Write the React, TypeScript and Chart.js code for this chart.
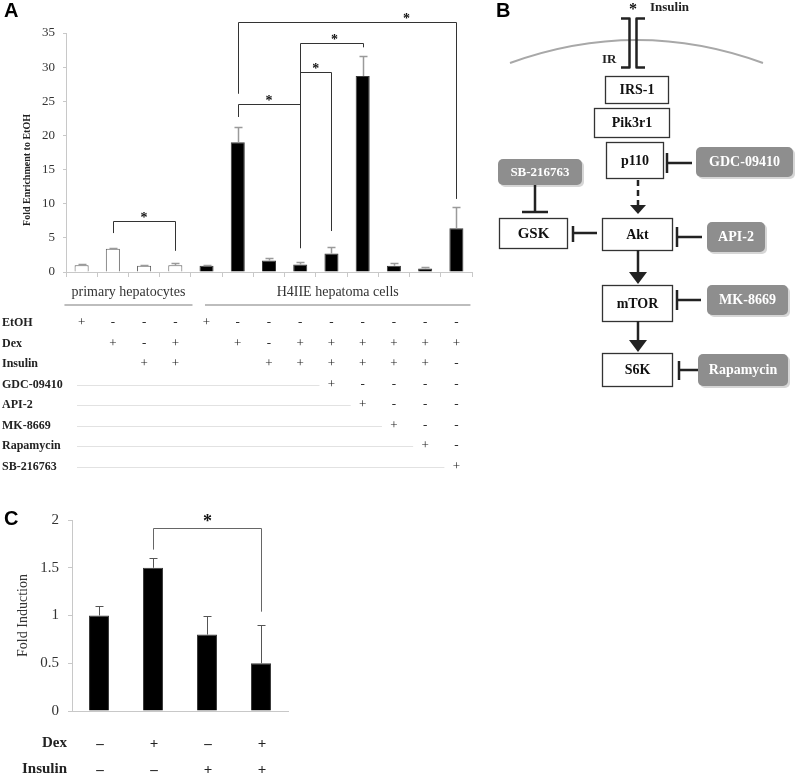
import React, { useEffect, useRef } from "react";
import { Chart, registerables } from "chart.js";

Chart.register(...registerables);

// ---------- Panel A data ----------
const lanesA = ["PH 1", "PH 2", "PH 3", "PH 4", "H4 1", "H4 2", "H4 3", "H4 4", "H4 5", "H4 6", "H4 7", "H4 8", "H4 9"];
const valuesA = [1.0, 3.4, 0.9, 1.0, 0.9, 19.0, 1.7, 1.1, 2.7, 28.7, 0.9, 0.5, 6.4];
const errorsA = [0.1, 0.1, 0.1, 0.3, 0.1, 2.2, 0.3, 0.4, 0.9, 2.9, 0.4, 0.3, 3.1];
const cellTypeA = ["primary", "primary", "primary", "primary", "H4IIE", "H4IIE", "H4IIE", "H4IIE", "H4IIE", "H4IIE", "H4IIE", "H4IIE", "H4IIE"];
const groupLabelsA = ["primary hepatocytes", "H4IIE hepatoma cells"];
const groupStartA = [-0.55, 3.95];
const groupEndA = [3.55, 12.45];

const etohA = ["+", "-", "-", "-", "+", "-", "-", "-", "-", "-", "-", "-", "-"];
const dexA = ["", "+", "-", "+", "", "+", "-", "+", "+", "+", "+", "+", "+"];
const insulinA = ["", "", "+", "+", "", "", "+", "+", "+", "+", "+", "+", "-"];
const gdcA = ["", "", "", "", "", "", "", "", "+", "-", "-", "-", "-"];
const api2A = ["", "", "", "", "", "", "", "", "", "+", "-", "-", "-"];
const mkA = ["", "", "", "", "", "", "", "", "", "", "+", "-", "-"];
const rapaA = ["", "", "", "", "", "", "", "", "", "", "", "+", "-"];
const sbA = ["", "", "", "", "", "", "", "", "", "", "", "", "+"];
const rowNamesA = ["EtOH", "Dex", "Insulin", "GDC-09410", "API-2", "MK-8669", "Rapamycin", "SB-216763"];
const rowValuesA = [etohA, dexA, insulinA, gdcA, api2A, mkA, rapaA, sbA];

const bracketFromA = [1, 5, 7, 7, 5];
const bracketToA = [3, 7, 8, 9, 12];
const bracketLeftBaseA = [5.7, 22.7, 3.5, 3.5, 26.1];
const bracketTopA = [7.5, 24.6, 29.3, 33.5, 36.6];
const bracketRightBaseA = [3.1, 3.5, 6.0, 32.9, 10.7];
const bracketStarA = [2.0, 6.0, 7.5, 8.1, 10.4];

// ---------- Panel C data ----------
const categoriesC = ["Control", "Dex", "Insulin", "Dex + Insulin"];
const valuesC = [1.0, 1.5, 0.8, 0.5];
const errorsC = [0.1, 0.1, 0.2, 0.4];
const dexC = ["–", "+", "–", "+"];
const insulinC = ["–", "–", "+", "+"];
const bracketC = [1, 3];
const bracketLevelsC = [1.69, 1.92, 1.04];

const SERIF = "'Liberation Serif', 'Times New Roman', serif";

function starAt(ctx: CanvasRenderingContext2D, x: number, y: number, size: number) {
  ctx.font = `bold ${size}px ${SERIF}`;
  ctx.textAlign = "center";
  ctx.textBaseline = "middle";
  ctx.fillStyle = "#111";
  ctx.fillText("*", x, y);
}

const pluginA = {
  id: "annotA",
  afterDatasetsDraw(chart: any) {
    const { ctx, scales } = chart;
    const x = scales.x;
    const y = scales.y;
    const meta = chart.getDatasetMeta(0);
    ctx.save();
    // error bars
    ctx.strokeStyle = "#9a9a9a";
    ctx.lineWidth = 1.5;
    valuesA.forEach((v, i) => {
      const px = Math.round(meta.data[i].x) + 0.5;
      const y0 = y.getPixelForValue(v);
      const y1 = Math.round(y.getPixelForValue(v + errorsA[i])) + 0.5;
      ctx.beginPath();
      ctx.moveTo(px, y0);
      ctx.lineTo(px, y1);
      ctx.moveTo(px - 4, y1);
      ctx.lineTo(px + 4, y1);
      ctx.stroke();
    });
    // brackets
    ctx.strokeStyle = "#333";
    ctx.lineWidth = 1;
    bracketFromA.forEach((f, k) => {
      const xl = Math.round(x.getPixelForValue(f)) + 0.5;
      const xr = Math.round(x.getPixelForValue(bracketToA[k])) + 0.5;
      const yt = Math.round(y.getPixelForValue(bracketTopA[k])) + 0.5;
      ctx.beginPath();
      ctx.moveTo(xl, y.getPixelForValue(bracketLeftBaseA[k]));
      ctx.lineTo(xl, yt);
      ctx.lineTo(xr, yt);
      ctx.lineTo(xr, y.getPixelForValue(bracketRightBaseA[k]));
      ctx.stroke();
      starAt(ctx, x.getPixelForValue(bracketStarA[k]), yt - 3, 14);
    });
    // y title
    ctx.save();
    ctx.translate(27, 170);
    ctx.rotate(-Math.PI / 2);
    ctx.font = `bold 10px ${SERIF}`;
    ctx.fillStyle = "#222";
    ctx.textAlign = "center";
    ctx.textBaseline = "middle";
    ctx.fillText("Fold Enrichment to EtOH", 0, 0);
    ctx.restore();
    // group labels
    groupLabelsA.forEach((g, k) => {
      const x0 = x.getPixelForValue(groupStartA[k]);
      const x1 = x.getPixelForValue(groupEndA[k]);
      ctx.strokeStyle = "#bdbdbd";
      ctx.lineWidth = 2;
      ctx.beginPath();
      ctx.moveTo(x0, 305);
      ctx.lineTo(x1, 305);
      ctx.stroke();
      ctx.font = `14px ${SERIF}`;
      ctx.fillStyle = "#333";
      ctx.textAlign = "center";
      ctx.textBaseline = "middle";
      ctx.fillText(g, (x0 + x1) / 2, 292);
    });
    // treatment table
    rowNamesA.forEach((name, r) => {
      const ry = 323 + r * 20.5;
      ctx.font = `bold 12px ${SERIF}`;
      ctx.fillStyle = "#222";
      ctx.textAlign = "left";
      ctx.textBaseline = "middle";
      ctx.fillText(name, 2, ry);
      const vals = rowValuesA[r];
      if (r >= 3) {
        const firstPlus = vals.indexOf("+");
        ctx.strokeStyle = "#e2e2e2";
        ctx.lineWidth = 1;
        ctx.beginPath();
        ctx.moveTo(77, Math.round(ry) + 0.5);
        ctx.lineTo(x.getPixelForValue(firstPlus) - 12, Math.round(ry) + 0.5);
        ctx.stroke();
      }
      vals.forEach((s, i) => {
        if (!s) return;
        ctx.font = `13px ${SERIF}`;
        ctx.fillStyle = "#222";
        ctx.textAlign = "center";
        ctx.fillText(s, x.getPixelForValue(i), ry);
      });
    });
    ctx.restore();
  },
};

const pluginC = {
  id: "annotC",
  afterDatasetsDraw(chart: any) {
    const { ctx, scales } = chart;
    const x = scales.x;
    const y = scales.y;
    const meta = chart.getDatasetMeta(0);
    ctx.save();
    ctx.strokeStyle = "#555";
    ctx.lineWidth = 1;
    valuesC.forEach((v, i) => {
      const px = Math.round(meta.data[i].x) + 0.5;
      const y0 = y.getPixelForValue(v);
      const y1 = Math.round(y.getPixelForValue(v + errorsC[i])) + 0.5;
      ctx.beginPath();
      ctx.moveTo(px, y0);
      ctx.lineTo(px, y1);
      ctx.moveTo(px - 4, y1);
      ctx.lineTo(px + 4, y1);
      ctx.stroke();
    });
    // bracket
    const xl = Math.round(x.getPixelForValue(bracketC[0])) + 0.5;
    const xr = Math.round(x.getPixelForValue(bracketC[1])) + 0.5;
    const yt = Math.round(y.getPixelForValue(bracketLevelsC[1])) + 0.5;
    ctx.strokeStyle = "#666";
    ctx.beginPath();
    ctx.moveTo(xl, y.getPixelForValue(bracketLevelsC[0]));
    ctx.lineTo(xl, yt);
    ctx.lineTo(xr, yt);
    ctx.lineTo(xr, y.getPixelForValue(bracketLevelsC[2]));
    ctx.stroke();
    starAt(ctx, (xl + xr) / 2, yt - 6, 18);
    // y title
    ctx.save();
    ctx.translate(23, (chart.chartArea.top + chart.chartArea.bottom) / 2);
    ctx.rotate(-Math.PI / 2);
    ctx.font = `14px ${SERIF}`;
    ctx.fillStyle = "#333";
    ctx.textAlign = "center";
    ctx.textBaseline = "middle";
    ctx.fillText("Fold Induction", 0, 0);
    ctx.restore();
    // treatment rows
    const rows: [string, string[], number][] = [["Dex", dexC, 243], ["Insulin", insulinC, 269]];
    rows.forEach(([name, vals, ry]) => {
      ctx.font = `bold 15px ${SERIF}`;
      ctx.fillStyle = "#222";
      ctx.textAlign = "right";
      ctx.textBaseline = "middle";
      ctx.fillText(name, 67, ry);
      vals.forEach((s, i) => {
        ctx.textAlign = "center";
        ctx.fillText(s, x.getPixelForValue(i) + 1, ry + 1);
      });
    });
    ctx.restore();
  },
};

function PanelA() {
  const ref = useRef<HTMLCanvasElement>(null);
  useEffect(() => {
    const chart = new Chart(ref.current as HTMLCanvasElement, {
      type: "bar",
      data: {
        labels: lanesA,
        datasets: [
          {
            data: valuesA,
            backgroundColor: cellTypeA.map((c) => (c === "primary" ? "#ffffff" : "#000000")),
            borderColor: cellTypeA.map((c) => (c === "primary" ? "#5e5e5e" : "#3a3a3a")),
            borderWidth: 1,
            barPercentage: 0.45,
            categoryPercentage: 1,
          },
        ],
      },
      options: {
        responsive: false,
        animation: false,
        layout: { padding: { left: 0, top: 33, right: 8, bottom: 203 } },
        plugins: { legend: { display: false }, tooltip: { enabled: false } },
        scales: {
          x: {
            grid: { display: true, drawOnChartArea: false, drawTicks: true, tickLength: 5, color: "#c8c8c8", offset: true },
            border: { color: "#c8c8c8" },
            ticks: { display: false },
            afterFit: (s: any) => {
              s.height = 5;
            },
          },
          y: {
            min: 0,
            max: 35,
            ticks: { stepSize: 5, font: { family: SERIF, size: 13 }, color: "#333", padding: 8 },
            grid: { drawOnChartArea: false, tickLength: 3, color: "#c8c8c8" },
            border: { color: "#c8c8c8" },
            afterFit: (s: any) => {
              s.width = 66;
            },
          },
        },
      },
      plugins: [pluginA],
    } as any);
    return () => chart.destroy();
  }, []);
  return <canvas ref={ref} width={480} height={480} style={{ position: "absolute", left: 0, top: 0 }} />;
}

function PanelC() {
  const ref = useRef<HTMLCanvasElement>(null);
  useEffect(() => {
    const chart = new Chart(ref.current as HTMLCanvasElement, {
      type: "bar",
      data: {
        labels: categoriesC,
        datasets: [
          {
            data: valuesC,
            backgroundColor: "#000000",
            borderColor: "#3a3a3a",
            borderWidth: 1,
            barPercentage: 0.37,
            categoryPercentage: 1,
          },
        ],
      },
      options: {
        responsive: false,
        animation: false,
        layout: { padding: { left: 0, top: 20, right: 12, bottom: 69 } },
        plugins: { legend: { display: false }, tooltip: { enabled: false } },
        scales: {
          x: {
            grid: { display: false, drawTicks: false },
            border: { color: "#c8c8c8" },
            ticks: { display: false },
            afterFit: (s: any) => {
              s.height = 0;
            },
          },
          y: {
            min: 0,
            max: 2,
            ticks: {
              stepSize: 0.5,
              font: { family: SERIF, size: 15 },
              color: "#333",
              padding: 9,
              callback: (v: any) => String(Number(v)),
            },
            grid: { drawOnChartArea: false, tickLength: 4, color: "#c8c8c8" },
            border: { color: "#c8c8c8" },
            afterFit: (s: any) => {
              s.width = 72;
            },
          },
        },
      },
      plugins: [pluginC],
    } as any);
    return () => chart.destroy();
  }, []);
  return <canvas ref={ref} width={300} height={280} style={{ position: "absolute", left: 0, top: 500 }} />;
}

function GrayBox({ x, y, w, h, label, size = 14 }: { x: number; y: number; w: number; h: number; label: string; size?: number }) {
  return (
    <g>
      <rect x={x + 2} y={y + 2} width={w} height={h} rx={5} fill="#d6d6d6" />
      <rect x={x} y={y} width={w} height={h} rx={5} fill="#8e8e8e" />
      <text x={x + w / 2} y={y + h / 2 + 1} fontFamily={SERIF} fontWeight="bold" fontSize={size} fill="#fff" textAnchor="middle" dominantBaseline="middle">
        {label}
      </text>
    </g>
  );
}

function Box({ x, y, w, h, label, size = 14 }: { x: number; y: number; w: number; h: number; label: string; size?: number }) {
  return (
    <g>
      <rect x={x + 0.5} y={y + 0.5} width={w} height={h} fill="#fff" stroke="#333" strokeWidth={1.3} />
      <text x={x + w / 2 + 0.5} y={y + h / 2 + 1.5} fontFamily={SERIF} fontWeight="bold" fontSize={size} fill="#111" textAnchor="middle" dominantBaseline="middle">
        {label}
      </text>
    </g>
  );
}

function PanelB() {
  const s = "#222";
  return (
    <svg width={796} height={780} style={{ position: "absolute", left: 0, top: 0, pointerEvents: "none" }}>
      {/* membrane */}
      <path d="M510,63 Q637,17 763,63" fill="none" stroke="#a8a8a8" strokeWidth={2} />
      {/* receptor */}
      <path d="M621,18.5 H629.5 V67.5 H621" fill="none" stroke={s} strokeWidth={2.5} strokeLinejoin="round" />
      <path d="M645,18.5 H636.5 V67.5 H645" fill="none" stroke={s} strokeWidth={2.5} strokeLinejoin="round" />
      <text x={633} y={14} fontFamily={SERIF} fontWeight="bold" fontSize={16} textAnchor="middle" fill="#111">*</text>
      <text x={650} y={8} fontFamily={SERIF} fontWeight="bold" fontSize={13} fill="#222" dominantBaseline="middle">Insulin</text>
      <text x={602} y={60} fontFamily={SERIF} fontWeight="bold" fontSize={13} fill="#222" dominantBaseline="middle">IR</text>
      <Box x={605} y={76} w={63} h={27} label="IRS-1" />
      <Box x={594} y={108} w={75} h={29} label="Pik3r1" />
      <Box x={606} y={142} w={57} h={36} label="p110" />
      <Box x={499} y={218} w={68} h={30} label="GSK" size={15} />
      <Box x={602} y={218} w={70} h={32} label="Akt" />
      <Box x={602} y={285} w={70} h={36} label="mTOR" />
      <Box x={602} y={353} w={70} h={33} label="S6K" />
      <GrayBox x={696} y={147} w={97} h={30} label="GDC-09410" />
      <GrayBox x={498} y={159} w={84} h={26} label="SB-216763" size={13} />
      <GrayBox x={707} y={222} w={58} h={30} label="API-2" />
      <GrayBox x={707} y={285} w={81} h={30} label="MK-8669" />
      <GrayBox x={698} y={354} w={90} h={32} label="Rapamycin" />
      {/* inhibition lines */}
      <g stroke={s} strokeWidth={2.5} fill="none">
        <path d="M667,153 V173 M667,163 H692" />
        <path d="M535,185 V212 M522,212 H548" />
        <path d="M573,226 V242 M573,233 H597" />
        <path d="M677,227 V247 M677,237 H702" />
        <path d="M677,290 V310 M677,300 H701" />
        <path d="M679,361 V380 M679,370 H698" />
        <path d="M638,180 V206" strokeDasharray="6,4" />
        <path d="M638,250 V274" />
        <path d="M638,321 V342" />
      </g>
      <g fill={s}>
        <polygon points="630,205 646,205 638,214" />
        <polygon points="629,272 647,272 638,284" />
        <polygon points="629,340 647,340 638,352" />
      </g>
    </svg>
  );
}

const letterStyle = (left: number, top: number): React.CSSProperties => ({
  position: "absolute",
  left,
  top,
  fontFamily: "'Liberation Sans', Arial, sans-serif",
  fontWeight: "bold",
  fontSize: 20,
  lineHeight: "20px",
  color: "#000",
});

export default function App() {
  return (
    <div style={{ position: "absolute", left: 0, top: 0, width: 796, height: 780, background: "#fff", overflow: "hidden" }}>
      <PanelA />
      <PanelC />
      <PanelB />
      <div style={letterStyle(4, 0)}>A</div>
      <div style={letterStyle(496, 0)}>B</div>
      <div style={letterStyle(4, 508)}>C</div>
    </div>
  );
}
